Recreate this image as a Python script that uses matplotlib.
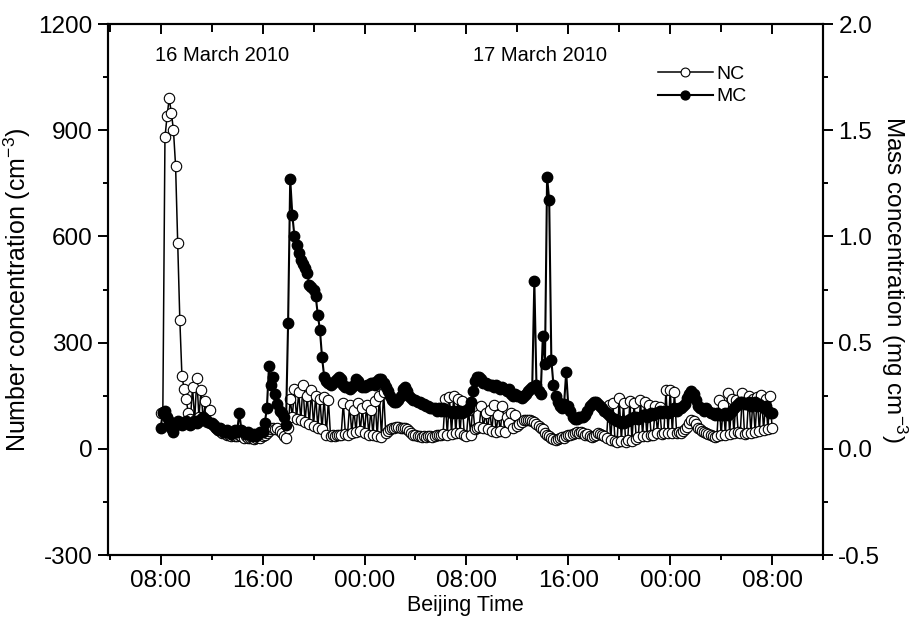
import numpy as np
import matplotlib
matplotlib.use("Agg")
from matplotlib import pyplot as plt
from matplotlib.ticker import MultipleLocator, FuncFormatter, FormatStrFormatter

plt.rcParams['font.family'] = ['Liberation Sans', 'DejaVu Sans']
plt.rcParams['mathtext.default'] = 'regular'
plt.rcParams['axes.unicode_minus'] = False

# hours since 16 March 2010 00:00, one sample every 10 min (08:00 16th -> 08:00 18th)
hours = 8 + np.arange(289) / 6.0

# number concentration (cm-3), one row per hour
nc = [
    100, 105, 880, 940, 990, 950,   # 08
    900, 800, 580, 365, 205, 170,   # 09
    140, 100, 85, 175, 80, 200,     # 10
    90, 165, 80, 135, 75, 110,      # 11
    70, 65, 60, 55, 50, 45,         # 12
    45, 40, 40, 35, 40, 35,         # 13
    35, 40, 35, 30, 35, 30,         # 14
    30, 30, 28, 30, 32, 30,         # 15
    35, 40, 45, 50, 55, 60,         # 16
    55, 60, 50, 45, 35, 30,         # 17
    60, 140, 90, 170, 85, 160,      # 18
    80, 180, 75, 150, 70, 165,      # 19
    65, 150, 60, 140, 55, 145,      # 20
    40, 138, 35, 40, 35, 38,        # 21
    40, 38, 130, 42, 40, 125,       # 22
    45, 110, 48, 130, 50, 115,      # 23
    45, 125, 40, 110, 38, 135,      # 00
    35, 150, 34, 160, 45, 50,       # 01
    55, 58, 60, 62, 62, 60,         # 02
    60, 58, 55, 50, 45, 40,         # 03
    38, 36, 35, 34, 35, 34,         # 04
    35, 36, 34, 35, 38, 40,         # 05
    40, 42, 140, 40, 145, 42,       # 06
    148, 45, 140, 45, 135, 40,      # 07
    35, 110, 40, 120, 55, 60,       # 08
    62, 120, 60, 100, 55, 110,      # 09
    50, 124, 48, 96, 50, 120,       # 10
    48, 90, 73, 100, 60, 95,        # 11
    65, 70, 75, 80, 82, 80,         # 12
    80, 78, 75, 70, 65, 60,         # 13
    55, 45, 40, 35, 30, 28,         # 14
    25, 28, 30, 34, 30, 35,         # 15
    38, 40, 42, 45, 48, 45,         # 16
    48, 45, 40, 42, 35, 34,         # 17
    36, 40, 45, 42, 40, 35,         # 18
    30, 125, 25, 130, 22, 20,       # 19
    144, 22, 130, 20, 25, 135,      # 20
    22, 130, 28, 34, 138, 35,       # 21
    133, 36, 124, 40, 40, 120,      # 22
    45, 119, 42, 45, 165, 45,       # 23
    167, 45, 161, 46, 48, 45,       # 00
    50, 55, 62, 72, 80, 78,         # 01
    70, 60, 55, 50, 48, 45,         # 02
    42, 38, 35, 34, 36, 138,        # 03
    38, 125, 40, 158, 42, 140,      # 04
    45, 138, 48, 44, 158, 42,       # 05
    45, 150, 46, 140, 48, 147,      # 06
    50, 152, 52, 140, 55, 150,      # 07
    59,                             # 08
]

# mass concentration (mg cm-3), one row per hour
mc = [
    0.10, 0.17, 0.18, 0.15, 0.13, 0.10,   # 08
    0.08, 0.11, 0.13, 0.12, 0.11, 0.12,   # 09
    0.13, 0.12, 0.11, 0.12, 0.13, 0.12,   # 10
    0.13, 0.14, 0.15, 0.14, 0.13, 0.12,   # 11
    0.12, 0.11, 0.10, 0.09, 0.10, 0.09,   # 12
    0.08, 0.09, 0.08, 0.07, 0.08, 0.09,   # 13
    0.08, 0.17, 0.09, 0.08, 0.07, 0.08,   # 14
    0.07, 0.06, 0.07, 0.06, 0.07, 0.08,   # 15
    0.08, 0.12, 0.19, 0.39, 0.30, 0.34,   # 16
    0.26, 0.21, 0.18, 0.17, 0.15, 0.11,   # 17
    0.59, 1.27, 1.10, 1.00, 0.96, 0.92,   # 18
    0.89, 0.87, 0.85, 0.83, 0.77, 0.76,   # 19
    0.75, 0.72, 0.63, 0.56, 0.43, 0.34,   # 20
    0.32, 0.31, 0.30, 0.31, 0.32, 0.33,   # 21
    0.34, 0.33, 0.30, 0.29, 0.29, 0.28,   # 22
    0.29, 0.30, 0.33, 0.32, 0.30, 0.29,   # 23
    0.29, 0.30, 0.30, 0.31, 0.31, 0.30,   # 00
    0.32, 0.33, 0.33, 0.31, 0.29, 0.27,   # 01
    0.25, 0.23, 0.22, 0.22, 0.23, 0.25,   # 02
    0.28, 0.29, 0.27, 0.25, 0.24, 0.23,   # 03
    0.23, 0.22, 0.22, 0.21, 0.21, 0.20,   # 04
    0.20, 0.19, 0.19, 0.19, 0.18, 0.19,   # 05
    0.18, 0.19, 0.18, 0.18, 0.18, 0.17,   # 06
    0.18, 0.17, 0.18, 0.18, 0.17, 0.18,   # 07
    0.18, 0.19, 0.22, 0.27, 0.32, 0.34,   # 08
    0.34, 0.33, 0.31, 0.31, 0.30, 0.30,   # 09
    0.30, 0.29, 0.30, 0.29, 0.28, 0.29,   # 10
    0.28, 0.27, 0.28, 0.26, 0.25, 0.26,   # 11
    0.25, 0.25, 0.24, 0.25, 0.26, 0.27,   # 12
    0.28, 0.29, 0.79, 0.30, 0.27, 0.26,   # 13
    0.53, 0.40, 1.28, 1.17, 0.42, 0.30,   # 14
    0.25, 0.22, 0.20, 0.19, 0.21, 0.36,   # 15
    0.20, 0.18, 0.15, 0.14, 0.14, 0.15,   # 16
    0.15, 0.15, 0.16, 0.18, 0.20, 0.21,   # 17
    0.22, 0.22, 0.21, 0.20, 0.19, 0.18,   # 18
    0.17, 0.16, 0.15, 0.14, 0.14, 0.13,   # 19
    0.13, 0.12, 0.12, 0.13, 0.13, 0.14,   # 20
    0.14, 0.15, 0.15, 0.14, 0.15, 0.16,   # 21
    0.16, 0.15, 0.16, 0.17, 0.16, 0.17,   # 22
    0.17, 0.18, 0.17, 0.18, 0.18, 0.17,   # 23
    0.18, 0.18, 0.19, 0.18, 0.19, 0.19,   # 00
    0.20, 0.21, 0.24, 0.26, 0.27, 0.26,   # 01
    0.23, 0.20, 0.19, 0.19, 0.18, 0.19,   # 02
    0.18, 0.17, 0.17, 0.16, 0.17, 0.16,   # 03
    0.16, 0.16, 0.17, 0.16, 0.17, 0.18,   # 04
    0.19, 0.20, 0.21, 0.22, 0.22, 0.21,   # 05
    0.21, 0.22, 0.20, 0.21, 0.22, 0.20,   # 06
    0.21, 0.20, 0.19, 0.20, 0.18, 0.17,   # 07
    0.17,                                 # 08
]

date_labels = ["16 March 2010", "17 March 2010"]
date_pos = [7.55, 32.5]


def hour_fmt(v, pos):
    return "%02d:00" % (int(round(v)) % 24)


fig = plt.figure(figsize=(9.14, 6.22), dpi=100)
ax1 = fig.add_axes([0.118, 0.1077, 0.7825, 0.8537])
ax2 = ax1.twinx()

l_nc, = ax1.plot(hours, nc, '-o', color='black', mfc='white', ms=7.5, mew=0.8, lw=1.1)
l_mc, = ax2.plot(hours, mc, '-o', color='black', mfc='black', ms=7.5, lw=1.5)

ax1.set_xlim(3.85, 60)
ax1.xaxis.set_major_locator(MultipleLocator(8))
ax1.xaxis.set_minor_locator(MultipleLocator(4))
ax1.xaxis.set_major_formatter(FuncFormatter(hour_fmt))
ax1.set_ylim(-300, 1200)
ax1.yaxis.set_major_locator(MultipleLocator(300))
ax1.yaxis.set_minor_locator(MultipleLocator(150))
ax2.set_ylim(-0.5, 2.0)
ax2.yaxis.set_major_locator(MultipleLocator(0.5))
ax2.yaxis.set_minor_locator(MultipleLocator(0.25))
ax2.yaxis.set_major_formatter(FormatStrFormatter('%.1f'))

for ax in (ax1, ax2):
    for s in ax.spines.values():
        s.set_linewidth(1.5)

ax1.tick_params(axis='both', which='major', direction='out', length=7, width=1.4,
                labelsize=17.5, pad=4)
ax1.tick_params(axis='both', which='minor', direction='out', length=3.8, width=1.4)
ax1.tick_params(axis='x', which='both', top=False)
ax2.tick_params(axis='y', which='major', direction='out', length=7, width=1.4,
                labelsize=17.5, pad=4)
ax2.tick_params(axis='y', which='minor', direction='out', length=3.8, width=1.4)
# top ticks point inward
ax2.xaxis.set_visible(True)
ax2.tick_params(axis='x', which='both', direction='in', top=True, bottom=False,
                labeltop=False, labelbottom=False, width=1.4)
ax2.tick_params(axis='x', which='major', length=7.5)
ax2.tick_params(axis='x', which='minor', length=5.5)

ax1.set_xlabel('Beijing Time', fontsize=15.5, labelpad=2)
ax1.set_ylabel('Number concentration (cm$^{-3}$)', fontsize=18, labelpad=4)
ax2.set_ylabel('Mass concentration (mg cm$^{-3}$)', fontsize=17.5, rotation=270)
ax2.yaxis.set_label_coords(1.12, 0.52)

for lab, x in zip(date_labels, date_pos):
    ax1.text(x, 1110, lab, fontsize=14.5, ha='left', va='center')

ax2.legend([l_nc, l_mc], ['NC', 'MC'], loc='upper left', bbox_to_anchor=(0.745, 0.955),
           frameon=False, fontsize=14, handlelength=2.8, handletextpad=0.2,
           labelspacing=0.25, markerscale=0.85)

fig.savefig('out.png', dpi=100)
